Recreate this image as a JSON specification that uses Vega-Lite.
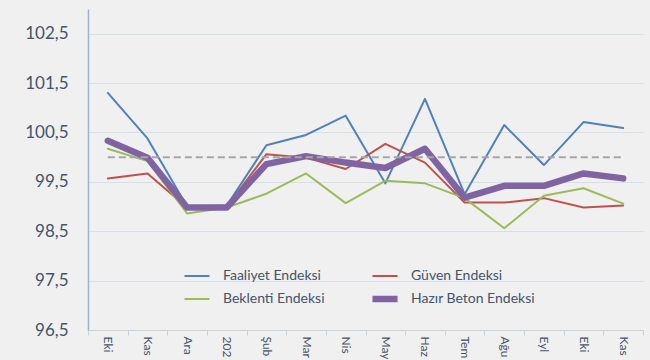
{
  "$schema": "https://vega.github.io/schema/vega-lite/v6.json",
  "autosize": {"type": "none"},
  "width": 555,
  "height": 321,
  "padding": {"left": 88, "top": 9, "right": 7, "bottom": 30},
  "background": "#f0f0f0",
  "config": {
    "font": "Lato",
    "view": {"stroke": null},
    "axis": {"labelColor": "#44546a", "labelFont": "Lato"},
    "legend": {"labelFont": "Lato"}
  },
  "datasets": {
    "seriler": [
      {"ay": "Ekim 2019", "seri": "Faaliyet Endeksi", "deger": 101.30},
      {"ay": "Kasım 2019", "seri": "Faaliyet Endeksi", "deger": 100.38},
      {"ay": "Aralık 2019", "seri": "Faaliyet Endeksi", "deger": 99.00},
      {"ay": "2020 Ocak", "seri": "Faaliyet Endeksi", "deger": 99.02},
      {"ay": "Şubat 2020", "seri": "Faaliyet Endeksi", "deger": 100.24},
      {"ay": "Mart 2020", "seri": "Faaliyet Endeksi", "deger": 100.45},
      {"ay": "Nisan 2020", "seri": "Faaliyet Endeksi", "deger": 100.84},
      {"ay": "Mayıs 2020", "seri": "Faaliyet Endeksi", "deger": 99.47},
      {"ay": "Haziran 2020", "seri": "Faaliyet Endeksi", "deger": 101.18},
      {"ay": "Temmuz 2020", "seri": "Faaliyet Endeksi", "deger": 99.25},
      {"ay": "Ağustos 2020", "seri": "Faaliyet Endeksi", "deger": 100.65},
      {"ay": "Eylül 2020", "seri": "Faaliyet Endeksi", "deger": 99.84},
      {"ay": "Ekim 2020", "seri": "Faaliyet Endeksi", "deger": 100.71},
      {"ay": "Kasım 2020", "seri": "Faaliyet Endeksi", "deger": 100.59},
      {"ay": "Ekim 2019", "seri": "Güven Endeksi", "deger": 99.57},
      {"ay": "Kasım 2019", "seri": "Güven Endeksi", "deger": 99.67},
      {"ay": "Aralık 2019", "seri": "Güven Endeksi", "deger": 98.98},
      {"ay": "2020 Ocak", "seri": "Güven Endeksi", "deger": 99.00},
      {"ay": "Şubat 2020", "seri": "Güven Endeksi", "deger": 100.06},
      {"ay": "Mart 2020", "seri": "Güven Endeksi", "deger": 99.99},
      {"ay": "Nisan 2020", "seri": "Güven Endeksi", "deger": 99.76},
      {"ay": "Mayıs 2020", "seri": "Güven Endeksi", "deger": 100.27},
      {"ay": "Haziran 2020", "seri": "Güven Endeksi", "deger": 99.89},
      {"ay": "Temmuz 2020", "seri": "Güven Endeksi", "deger": 99.08},
      {"ay": "Ağustos 2020", "seri": "Güven Endeksi", "deger": 99.08},
      {"ay": "Eylül 2020", "seri": "Güven Endeksi", "deger": 99.17},
      {"ay": "Ekim 2020", "seri": "Güven Endeksi", "deger": 98.98},
      {"ay": "Kasım 2020", "seri": "Güven Endeksi", "deger": 99.02},
      {"ay": "Ekim 2019", "seri": "Beklenti Endeksi", "deger": 100.17},
      {"ay": "Kasım 2019", "seri": "Beklenti Endeksi", "deger": 99.92},
      {"ay": "Aralık 2019", "seri": "Beklenti Endeksi", "deger": 98.86},
      {"ay": "2020 Ocak", "seri": "Beklenti Endeksi", "deger": 98.98},
      {"ay": "Şubat 2020", "seri": "Beklenti Endeksi", "deger": 99.26},
      {"ay": "Mart 2020", "seri": "Beklenti Endeksi", "deger": 99.67},
      {"ay": "Nisan 2020", "seri": "Beklenti Endeksi", "deger": 99.07},
      {"ay": "Mayıs 2020", "seri": "Beklenti Endeksi", "deger": 99.52},
      {"ay": "Haziran 2020", "seri": "Beklenti Endeksi", "deger": 99.47},
      {"ay": "Temmuz 2020", "seri": "Beklenti Endeksi", "deger": 99.17},
      {"ay": "Ağustos 2020", "seri": "Beklenti Endeksi", "deger": 98.56},
      {"ay": "Eylül 2020", "seri": "Beklenti Endeksi", "deger": 99.22},
      {"ay": "Ekim 2020", "seri": "Beklenti Endeksi", "deger": 99.37},
      {"ay": "Kasım 2020", "seri": "Beklenti Endeksi", "deger": 99.06},
      {"ay": "Ekim 2019", "seri": "Hazır Beton Endeksi", "deger": 100.33},
      {"ay": "Kasım 2019", "seri": "Hazır Beton Endeksi", "deger": 99.99},
      {"ay": "Aralık 2019", "seri": "Hazır Beton Endeksi", "deger": 98.98},
      {"ay": "2020 Ocak", "seri": "Hazır Beton Endeksi", "deger": 98.98},
      {"ay": "Şubat 2020", "seri": "Hazır Beton Endeksi", "deger": 99.86},
      {"ay": "Mart 2020", "seri": "Hazır Beton Endeksi", "deger": 100.02},
      {"ay": "Nisan 2020", "seri": "Hazır Beton Endeksi", "deger": 99.89},
      {"ay": "Mayıs 2020", "seri": "Hazır Beton Endeksi", "deger": 99.78},
      {"ay": "Haziran 2020", "seri": "Hazır Beton Endeksi", "deger": 100.17},
      {"ay": "Temmuz 2020", "seri": "Hazır Beton Endeksi", "deger": 99.18},
      {"ay": "Ağustos 2020", "seri": "Hazır Beton Endeksi", "deger": 99.42},
      {"ay": "Eylül 2020", "seri": "Hazır Beton Endeksi", "deger": 99.42},
      {"ay": "Ekim 2020", "seri": "Hazır Beton Endeksi", "deger": 99.67},
      {"ay": "Kasım 2020", "seri": "Hazır Beton Endeksi", "deger": 99.57}
    ],
    "referans": [
      {"ay": "Ekim 2019", "deger": 100},
      {"ay": "Kasım 2019", "deger": 100},
      {"ay": "Aralık 2019", "deger": 100},
      {"ay": "2020 Ocak", "deger": 100},
      {"ay": "Şubat 2020", "deger": 100},
      {"ay": "Mart 2020", "deger": 100},
      {"ay": "Nisan 2020", "deger": 100},
      {"ay": "Mayıs 2020", "deger": 100},
      {"ay": "Haziran 2020", "deger": 100},
      {"ay": "Temmuz 2020", "deger": 100},
      {"ay": "Ağustos 2020", "deger": 100},
      {"ay": "Eylül 2020", "deger": 100},
      {"ay": "Ekim 2020", "deger": 100},
      {"ay": "Kasım 2020", "deger": 100}
    ]
  },
  "encoding": {
    "x": {
      "field": "ay",
      "type": "ordinal",
      "sort": null,
      "scale": {
        "type": "band",
        "paddingInner": 0,
        "paddingOuter": 0,
        "domain": ["Ekim 2019", "Kasım 2019", "Aralık 2019", "2020 Ocak", "Şubat 2020", "Mart 2020", "Nisan 2020", "Mayıs 2020", "Haziran 2020", "Temmuz 2020", "Ağustos 2020", "Eylül 2020", "Ekim 2020", "Kasım 2020"]
      },
      "axis": {
        "title": null,
        "tickBand": "extent",
        "labelAngle": 90,
        "labelAlign": "left",
        "labelBaseline": "middle",
        "labelFontSize": 12,
        "labelPadding": 1,
        "labelExpr": "substring(datum.label, 0, 3)",
        "domainColor": "#c9d3e0",
        "tickColor": "#c9d3e0",
        "tickSize": 5,
        "grid": false
      }
    },
    "y": {
      "field": "deger",
      "type": "quantitative",
      "scale": {"domain": [96.5, 103], "nice": false, "zero": false},
      "axis": {
        "title": null,
        "values": [96.5, 97.5, 98.5, 99.5, 100.5, 101.5, 102.5],
        "labelExpr": "replace(format(datum.value, '.1f'), '.', ',')",
        "labelFontSize": 17,
        "labelPadding": 20,
        "ticks": false,
        "domainColor": "#9fb3cf",
        "domainWidth": 1.5,
        "grid": true,
        "gridColor": "#d6e0ec",
        "gridWidth": 1
      }
    }
  },
  "layer": [
    {
      "data": {"name": "seriler"},
      "mark": {"type": "line", "strokeCap": "round", "strokeJoin": "round"},
      "encoding": {
        "color": {
          "field": "seri",
          "type": "nominal",
          "sort": null,
          "title": null,
          "scale": {
            "domain": ["Faaliyet Endeksi", "Güven Endeksi", "Beklenti Endeksi", "Hazır Beton Endeksi"],
            "range": ["#4f81bd", "#c0504d", "#9bbb59", "#8064a2"]
          },
          "legend": {
            "orient": "none",
            "direction": "horizontal",
            "legendX": 102,
            "legendY": 260,
            "columns": 2,
            "columnPadding": 34,
            "rowPadding": 3,
            "symbolType": "stroke",
            "symbolSize": 625,
            "symbolStrokeWidth": {"expr": "datum.value === 'Hazır Beton Endeksi' ? 6.5 : 2"},
            "labelFontSize": 14,
            "labelColor": "#44546a",
            "labelOffset": 19
          }
        },
        "strokeWidth": {
          "condition": {"test": "datum.seri === 'Hazır Beton Endeksi'", "value": 6.5},
          "value": 2
        }
      }
    },
    {
      "data": {"name": "referans"},
      "mark": {"type": "line", "color": "#a6a6a6", "strokeWidth": 2, "strokeDash": [7, 4]},
      "encoding": {}
    }
  ]
}
